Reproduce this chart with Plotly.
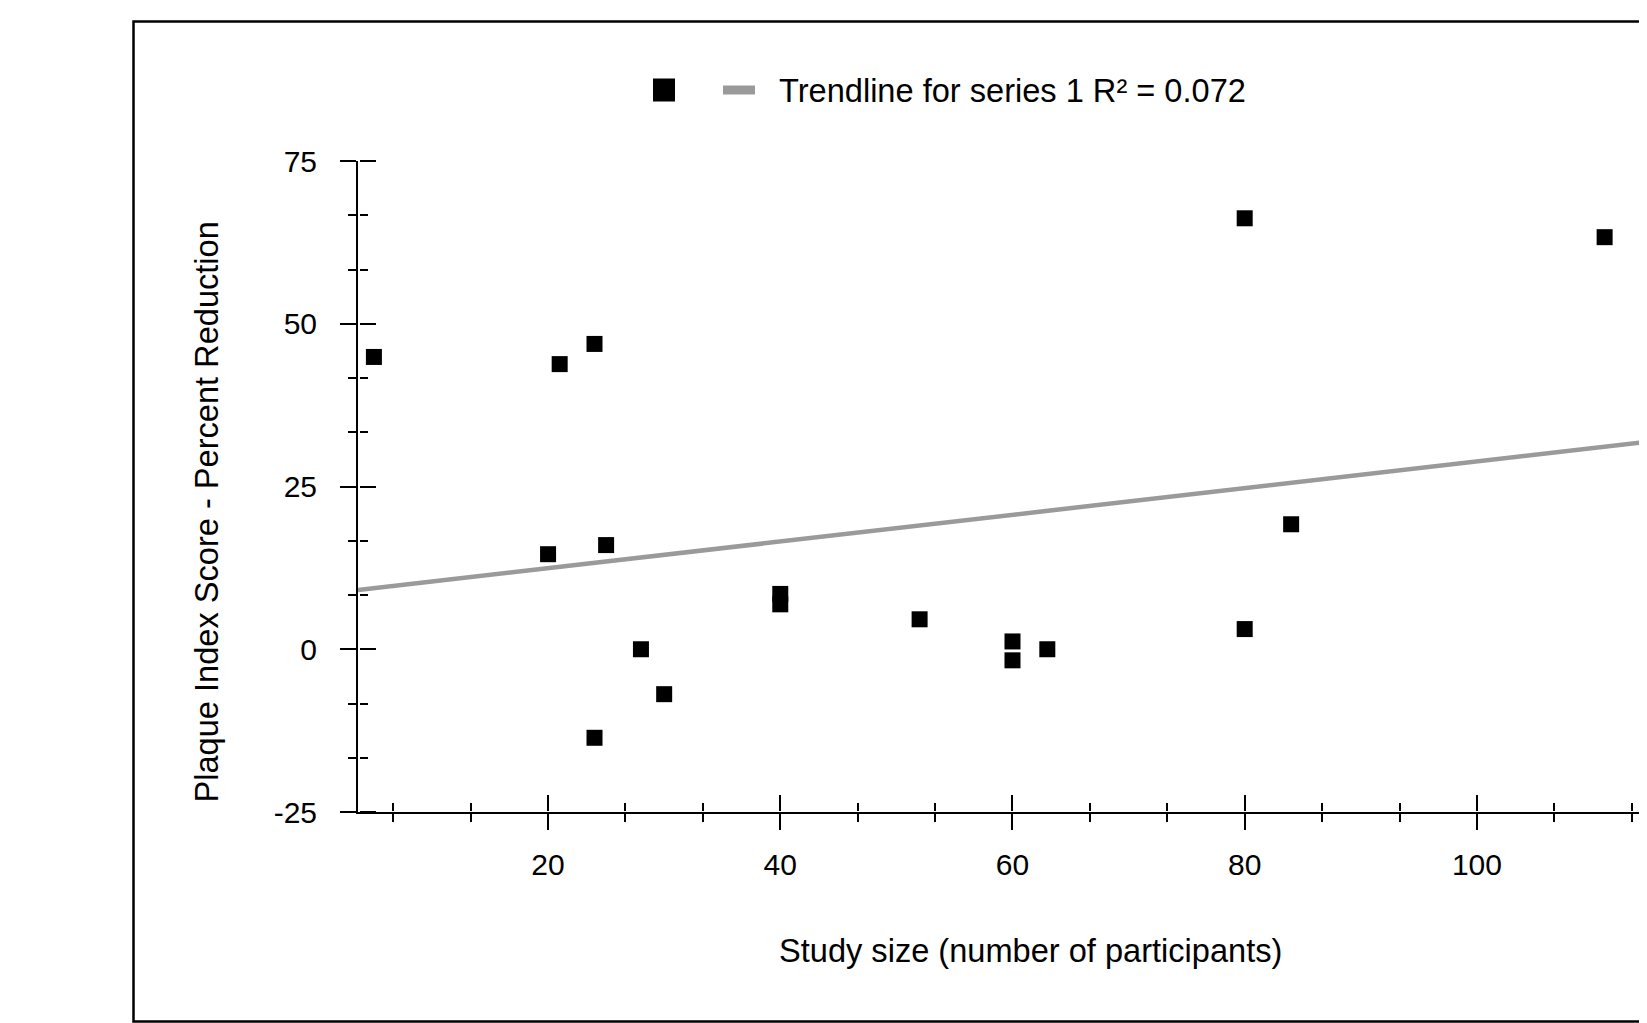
import plotly.graph_objects as go

# ---- data ----
study_size = [5, 20, 21, 24, 24, 25, 28, 30, 40, 40, 52, 60, 60, 63, 80, 80, 84, 111]
plaque_reduction = [44.9, 14.6, 43.8, 46.9, -13.6, 16.0, 0.0, -6.9, 8.5, 6.9,
                    4.6, 1.2, -1.7, 0.0, 66.2, 3.1, 19.2, 63.3]
trend_x = [3.63, 114.65]
trend_y = [9.1, 31.85]
x_tick_vals = [20, 40, 60, 80, 100]
x_tick_text = ["20", "40", "60", "80", "100"]
y_tick_vals = [-25, 0, 25, 50, 75]
y_tick_text = ["-25", "0", "25", "50", "75"]
legend_label = "Trendline for series 1 R² = 0.072"
x_title = "Study size (number of participants)"
y_title = "Plaque Index Score - Percent Reduction"

# ---- layout geometry (page body has an 8px margin) ----
OFF = 8
W, H = 1639, 1015
L, R, T, B = 350, 0, 153, 211
X_RANGE = [3.63, 114.65]
Y_RANGE = [-25, 75]
FONT = "Liberation Sans, Arial, Helvetica, sans-serif"
GRAY = "#9a9a9a"
TFS = 32.6
TINY = [0, 0.0005]


def px_x(X):  # X in page pixels
    return (X - OFF - L) / (W - L - R)


def px_y(Y):
    return (H - B - (Y - OFF)) / (H - T - B)


fig = go.Figure()

fig.add_trace(go.Scatter(
    x=trend_x, y=trend_y, mode="lines",
    line=dict(color=GRAY, width=4.5),
    showlegend=False, hoverinfo="skip",
))
fig.add_trace(go.Scatter(
    x=study_size, y=plaque_reduction, mode="markers",
    marker=dict(symbol="square", size=16, color="black", line=dict(width=0)),
    showlegend=False,
))
# empty traces that register the helper subplots (inner halves of the crossing ticks)
fig.add_trace(go.Scatter(x=[None], y=[None], xaxis="x3", yaxis="y4",
                         showlegend=False, hoverinfo="skip"))
fig.add_trace(go.Scatter(x=[None], y=[None], xaxis="x4", yaxis="y3",
                         showlegend=False, hoverinfo="skip"))

common_tick = dict(tickcolor="black", tickwidth=2, ticklen=16,
                   showgrid=False, zeroline=False, automargin=False)
x_minor = dict(ticks="outside", ticklen=8, tickwidth=2, tickcolor="black",
               tick0=0, dtick=20 / 3, showgrid=False)
y_minor = dict(ticks="outside", ticklen=8, tickwidth=2, tickcolor="black",
               tick0=0, dtick=25 / 3, showgrid=False)

fig.update_layout(
    width=W, height=H,
    margin=dict(l=L, r=R, t=T, b=B, pad=0),
    paper_bgcolor="white", plot_bgcolor="rgba(0,0,0,0)",
    font=dict(family=FONT, color="black", size=30),
    showlegend=False,
    xaxis=dict(range=X_RANGE, domain=[0, 1], anchor="y",
               tickmode="array", tickvals=x_tick_vals, ticktext=x_tick_text,
               ticks="outside", showline=True, linecolor="black", linewidth=2,
               tickfont=dict(size=30), ticklabelstandoff=9,
               minor=x_minor, **common_tick),
    yaxis=dict(range=Y_RANGE, domain=[0, 1], anchor="x",
               tickmode="array", tickvals=y_tick_vals, ticktext=y_tick_text,
               ticks="outside", showline=True, linecolor="black", linewidth=2,
               tickfont=dict(size=30), ticklabelstandoff=17,
               minor=y_minor, **common_tick),
    # x ticks pointing up: top-side axis sitting on a hairline-high subplot at the bottom
    xaxis3=dict(range=X_RANGE, domain=[0, 1], anchor="y4", side="top",
                tickmode="array", tickvals=x_tick_vals, ticks="outside",
                showticklabels=False, showline=False, minor=x_minor, **common_tick),
    yaxis4=dict(range=[0, 1], domain=TINY, anchor="x3", visible=False),
    # y ticks pointing right: right-side axis on a hairline-wide subplot at the left
    yaxis3=dict(range=Y_RANGE, domain=[0, 1], anchor="x4", side="right",
                tickmode="array", tickvals=y_tick_vals, ticks="outside",
                showticklabels=False, showline=False, minor=y_minor, **common_tick),
    xaxis4=dict(range=[0, 1], domain=TINY, anchor="y3", visible=False),
)

shapes = [
    # outer frame (right side runs past the window)
    dict(type="rect", xref="paper", yref="paper",
         x0=px_x(133.5), x1=px_x(1800), y0=px_y(1021.5), y1=px_y(21.5),
         line=dict(color="black", width=2.5), fillcolor="rgba(0,0,0,0)", layer="above"),
    # legend: marker swatch
    dict(type="rect", xref="paper", yref="paper",
         x0=px_x(653), x1=px_x(675), y0=px_y(101.5), y1=px_y(78.5),
         line=dict(width=0), fillcolor="black"),
    # legend: trendline swatch
    dict(type="line", xref="paper", yref="paper",
         x0=px_x(723), x1=px_x(755), y0=px_y(90), y1=px_y(90),
         line=dict(color=GRAY, width=9)),
]
fig.update_layout(shapes=shapes)

fig.add_annotation(text=legend_label, xref="paper", yref="paper",
                   x=px_x(777), y=px_y(90), xanchor="left", yanchor="middle",
                   showarrow=False, font=dict(size=TFS, family=FONT, color="black"))
fig.add_annotation(text=x_title, xref="paper", yref="paper",
                   x=px_x(1030.5), y=px_y(950), xanchor="center", yanchor="middle",
                   showarrow=False, font=dict(size=TFS, family=FONT, color="black"))
fig.add_annotation(text=y_title, xref="paper", yref="paper",
                   x=px_x(206), y=px_y(512.5), xanchor="center", yanchor="middle",
                   textangle=-90, showarrow=False,
                   font=dict(size=TFS, family=FONT, color="black"))

fig.write_html("out.html", config={"displayModeBar": False, "staticPlot": True})
